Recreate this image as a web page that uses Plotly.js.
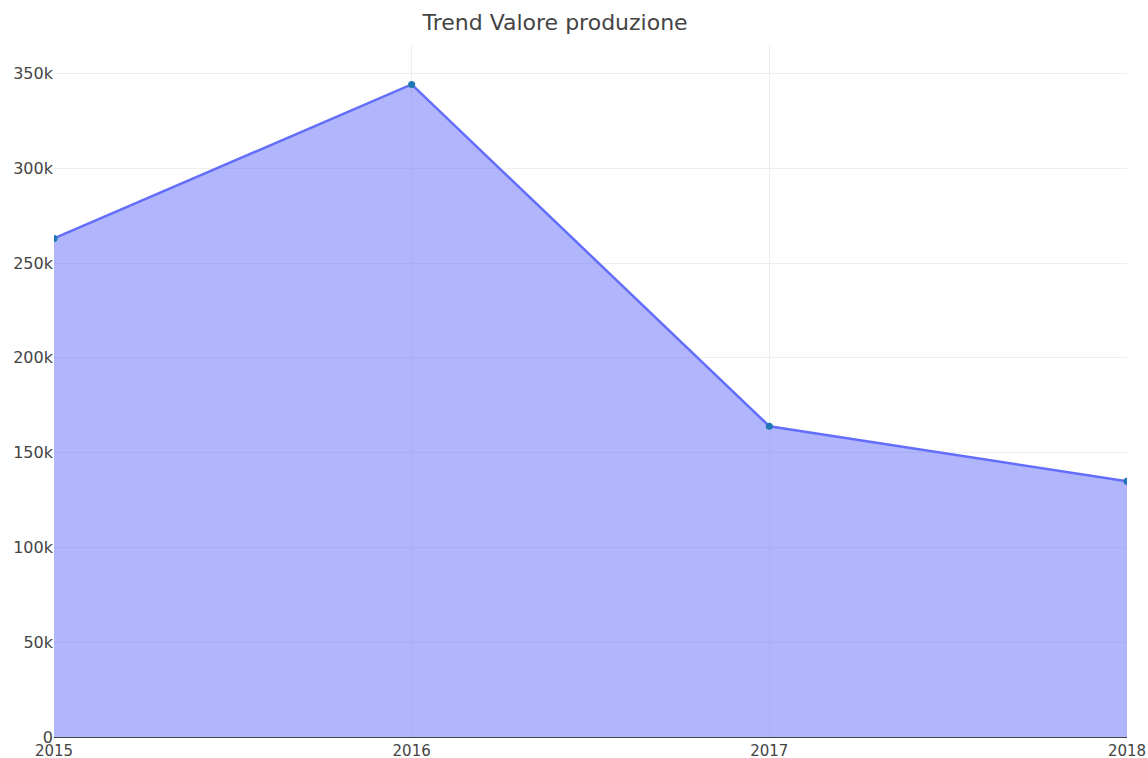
<!DOCTYPE html>
<html><head><meta charset="utf-8">
<script src="https://cdn.plot.ly/plotly-3.0.1.min.js"></script>
<style>html,body{margin:0;padding:0;background:#fff;overflow:hidden}#chart{width:1148px;height:758px}</style>
</head><body><div id="chart"></div>
<script>
const years = [2015, 2016, 2017, 2018];
const valoreProduzione = [263000, 344200, 163900, 134900];
const yTickVals = [0, 50000, 100000, 150000, 200000, 250000, 300000, 350000];
const yTickText = ['0', '50k', '100k', '150k', '200k', '250k', '300k', '350k'];

Plotly.newPlot('chart', [{
  x: years, y: valoreProduzione, type: 'scatter', mode: 'lines+markers',
  fill: 'tozeroy', fillcolor: 'rgba(99,110,250,0.5)',
  line: {color: '#636efa', width: 2.5},
  marker: {color: '#1f77b4', size: 7}
}], {
  width: 1148, height: 758,
  margin: {l: 54, r: 21, t: 45, b: 21},
  paper_bgcolor: '#fff', plot_bgcolor: '#fff',
  font: {family: 'DejaVu Sans, sans-serif', size: 15, color: '#444'},
  title: {text: 'Trend Valore produzione', x: 0.4835, xanchor: 'center', y: 0.971, yanchor: 'middle', font: {size: 22, color: '#444'}},
  showlegend: false,
  xaxis: {range: [2015, 2018], tickvals: years, ticktext: years.map(String), showgrid: true, gridcolor: '#eee',
    showline: true, linecolor: '#444', linewidth: 1, zeroline: false, ticks: '', ticklen: 0, automargin: false,
    tickfont: {size: 15}},
  yaxis: {range: [0, 365000], tickvals: yTickVals, ticktext: yTickText, showgrid: true, gridcolor: '#eee',
    zeroline: false, showline: false, ticks: '', automargin: false, tickfont: {size: 16}}
}, {displayModeBar: false, staticPlot: true});
</script></body></html>
